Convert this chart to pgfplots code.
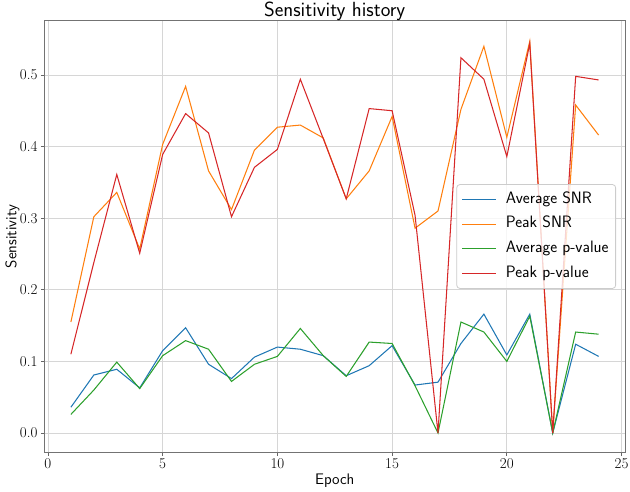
\documentclass[border=0pt]{standalone}
\usepackage{fontspec}
\usepackage{pgfplots}
\pgfplotsset{compat=1.18}
\usepackage{pgfplotstable}
\usetikzlibrary{calc}
\definecolor{c0}{HTML}{1F77B4}
\definecolor{c1}{HTML}{FF7F0E}
\definecolor{c2}{HTML}{2CA02C}
\definecolor{c3}{HTML}{D62728}
\pgfplotstableread{
ep as ps ap pp
1 0.036 0.155 0.026 0.110
2 0.081 0.302 0.060 0.238
3 0.089 0.336 0.099 0.361
4 0.063 0.257 0.062 0.251
5 0.115 0.403 0.108 0.389
6 0.147 0.484 0.129 0.446
7 0.096 0.366 0.117 0.419
8 0.076 0.312 0.072 0.302
9 0.106 0.395 0.096 0.371
10 0.120 0.427 0.107 0.396
11 0.117 0.430 0.146 0.494
12 0.108 0.412 0.108 0.411
13 0.080 0.327 0.079 0.327
14 0.094 0.366 0.127 0.453
15 0.122 0.442 0.125 0.450
16 0.067 0.286 0.066 0.304
17 0.071 0.310 0.000 0.000
18 0.125 0.452 0.155 0.524
19 0.166 0.540 0.141 0.494
20 0.109 0.413 0.100 0.386
21 0.166 0.547 0.163 0.544
22 0.000 0.000 0.000 0.000
23 0.124 0.458 0.141 0.498
24 0.107 0.416 0.138 0.493
}\data
\begin{document}
\begin{tikzpicture}[x=1pt,y=1pt]
\useasboundingbox (0,0) rectangle (630,491);
\begin{axis}[
  at={(44.5pt,39pt)}, anchor=south west,
  scale only axis, width=580.5pt, height=431pt,
  xmin=-0.15, xmax=25.15, ymin=-0.0265, ymax=0.5753,
  xtick={0,5,10,15,20,25},
  ytick={0,0.1,0.2,0.3,0.4,0.5},
  /pgf/number format/assume math mode=true,
  yticklabel style={/pgf/number format/fixed,/pgf/number format/fixed zerofill,/pgf/number format/precision=1},
  ticklabel style={font=\rmfamily\fontsize{15}{18}\selectfont},
  tick align=outside, xtick pos=bottom, ytick pos=left,
  major tick length=3.5pt,
  tick style={black!60, line width=0.8pt},
  axis line style={black!55, line width=1pt},
  grid=major,
  major grid style={black!16, line width=0.8pt},
  title={Sensitivity history},
  title style={font=\sffamily\fontsize{20.5}{24}\selectfont, at={(axis description cs:0.5,1)}, anchor=base, yshift=-2pt},
  xlabel={Epoch},
  xlabel style={font=\sffamily\fontsize{15.3}{18}\selectfont, at={(axis description cs:0.5,0)}, anchor=base, yshift=-32pt},
  ylabel={Sensitivity},
  ylabel style={font=\sffamily\fontsize{15.3}{18}\selectfont, at={($(axis description cs:0,0.5)+(-28pt,0pt)$)}, anchor=base},
  legend image code/.code={\draw[#1] (0pt,0pt) -- (34pt,0pt);},
  legend style={at={(0.9845,0.5)}, anchor=east, draw=black!20, line width=0.8pt,
    rounded corners=3pt, fill=white, fill opacity=0.8, text opacity=1,
    font=\sffamily\fontsize{16.5}{19}\selectfont,
    inner xsep=5pt, inner ysep=5.1pt, row sep=5.2pt, column sep=7pt,
    nodes={text height=11.5pt, text depth=4pt, inner ysep=2pt, inner xsep=2pt, anchor=west}},
  legend cell align=left,
]
\addplot[c0, line width=1.05pt] table[x=ep, y=as] {\data};
\addlegendentry{Average SNR}
\addplot[c1, line width=1.05pt] table[x=ep, y=ps] {\data};
\addlegendentry{Peak SNR}
\addplot[c2, line width=1.05pt] table[x=ep, y=ap] {\data};
\addlegendentry{Average p-value}
\addplot[c3, line width=1.05pt] table[x=ep, y=pp] {\data};
\addlegendentry{Peak p-value}
\end{axis}
\end{tikzpicture}
\end{document}
